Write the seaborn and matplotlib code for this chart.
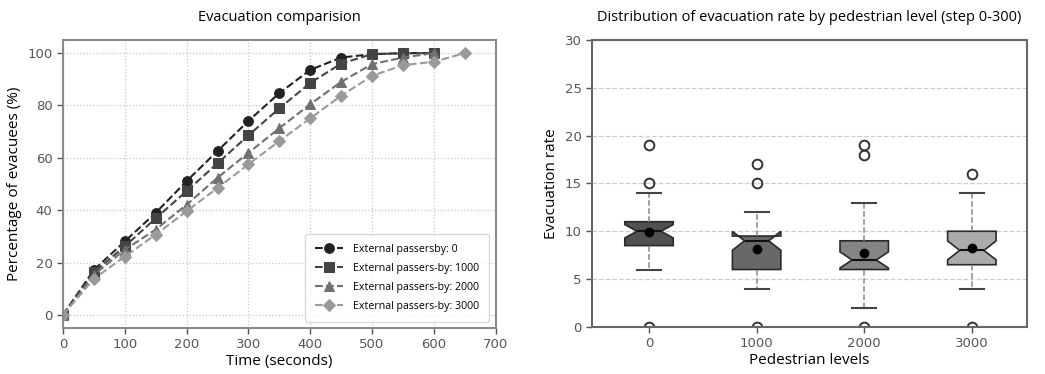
import pandas as pd
import seaborn as sns
import matplotlib.pyplot as plt

# Evacuation curves (percentage of evacuees over time)
time_a = [0, 50, 100, 150, 200, 250, 300, 350, 400, 450, 500, 550, 600]
time_b = [0, 50, 100, 150, 200, 250, 300, 350, 400, 450, 500, 550, 600, 650]
pct_0 = [0, 17.2, 28.1, 39.0, 51.1, 62.6, 74.1, 84.7, 93.6, 98.3, 99.6, 100, 100]
pct_1000 = [0, 16.3, 26.2, 36.9, 47.3, 57.9, 68.6, 78.9, 88.6, 96.0, 99.6, 99.9, 100]
pct_2000 = [0, 15.3, 24.9, 32.6, 42.1, 52.4, 61.9, 71.3, 80.5, 89.0, 95.8, 98.3, 100]
pct_3000 = [0, 13.8, 22.3, 30.7, 39.6, 48.5, 57.5, 66.4, 75.1, 83.7, 91.3, 95.4, 96.7, 100]
series_labels = ['External passersby: 0', 'External passers-by: 1000',
                 'External passers-by: 2000', 'External passers-by: 3000']

# Evacuation rate samples per pedestrian level (steps 0-300)
levels = ['0', '1000', '2000', '3000']
rate_0 = [0, 6, 6, 6, 8, 8, 8, 8, 9, 9, 9, 10, 10, 10, 10, 10, 10, 10,
          11, 11, 11, 11, 11, 11, 11, 11, 11, 13, 14, 15, 19]
rate_1000 = [0, 4, 5, 5, 5, 6, 6, 6, 6, 7, 7, 7, 7, 8, 9, 9, 9, 9,
             9, 9, 9, 9, 9, 10, 10, 10, 10, 10, 12, 15, 17]
rate_2000 = [0, 2, 3, 5, 5, 6, 6, 6, 6, 6, 6, 7, 7, 7, 7, 7, 7, 8,
             8, 8, 8, 9, 9, 9, 9, 9, 9, 10, 13, 18, 19]
rate_3000 = [0, 4, 5, 5, 6, 6, 6, 6, 7, 7, 7, 7, 8, 8, 8, 8, 8, 9,
             9, 9, 10, 10, 10, 10, 10, 10, 10, 11, 13, 14, 16]

tick_color = '#555555'

fig = plt.figure(figsize=(10.45, 3.74), dpi=100)
ax1 = fig.add_axes([0.0603, 0.123, 0.414, 0.770])
ax2 = fig.add_axes([0.5665, 0.126, 0.416, 0.767])

# ---- left: line chart
curves = [(time_a, pct_0, 'o', '#222222'),
          (time_a, pct_1000, 's', '#444444'),
          (time_a, pct_2000, '^', '#707070'),
          (time_b, pct_3000, 'D', '#9a9a9a')]
for (t, p, m, c), lab in zip(curves, series_labels):
    sns.lineplot(x=t, y=p, ax=ax1, color=c, marker=m, markersize=7 if m != 'D' else 6.5,
                 markeredgecolor=c, linestyle='--', linewidth=1.5, dashes=(4, 2),
                 label=lab)

ax1.set_xlim(0, 700)
ax1.set_ylim(-5, 105)
ax1.set_xticks(range(0, 701, 100))
ax1.set_yticks(range(0, 101, 20))
ax1.grid(True, linestyle=':', color='#c8c8c8', linewidth=0.9)
ax1.set_axisbelow(True)
ax1.set_title('Evacuation comparision', family='Open Sans', fontsize=10.5, pad=14)
ax1.set_xlabel('Time (seconds)', family='Open Sans', fontsize=11, labelpad=2)
ax1.set_ylabel('Percentage of evacuees (%)', family='Open Sans', fontsize=11)
leg = ax1.legend(loc='lower right', prop={'family': 'Open Sans', 'size': 7.7},
                 frameon=True, handlelength=2.6, handletextpad=1.0, borderpad=0.9,
                 labelspacing=0.75, borderaxespad=0.6)
leg.get_frame().set_edgecolor('#d0d0d0')

# ---- right: notched box plot
box_df = pd.DataFrame({
    'level': [lv for lv, r in zip(levels, [rate_0, rate_1000, rate_2000, rate_3000]) for _ in r],
    'rate': rate_0 + rate_1000 + rate_2000 + rate_3000,
})
sns.boxplot(data=box_df, x='level', y='rate', hue='level', order=levels, hue_order=levels,
            palette=['#505050', '#686868', '#858585', '#ababab'], legend=False,
            width=0.45, notch=True, showmeans=True, linecolor='#2a2a2a', linewidth=1.2,
            meanprops=dict(marker='o', markerfacecolor='black', markeredgecolor='black',
                           markersize=6),
            whiskerprops=dict(linestyle='--', color='#888888', linewidth=1.1),
            capprops=dict(color='#444444', linewidth=1.5),
            medianprops=dict(color='#111111', linewidth=1.5),
            flierprops=dict(marker='o', markerfacecolor='none', markeredgecolor='#333333',
                            markersize=7, markeredgewidth=1.4),
            ax=ax2)
ax2.set_ylim(0, 30)
ax2.set_xlim(-0.53, 3.51)
ax2.yaxis.grid(True, linestyle='--', color='#cccccc', linewidth=0.9)
ax2.xaxis.grid(False)
ax2.set_axisbelow(True)
ax2.set_title('Distribution of evacuation rate by pedestrian level (step 0-300)',
              family='Open Sans', fontsize=10.5, pad=14)
ax2.set_xlabel('Pedestrian levels', family='Open Sans', fontsize=11, labelpad=2)
ax2.set_ylabel('Evacuation rate', family='Open Sans', fontsize=11)

for ax, sc in [(ax1, '#8a8a8a'), (ax2, '#666666')]:
    for s in ax.spines.values():
        s.set_color(sc)
        s.set_linewidth(1.5)
    ax.tick_params(colors=tick_color, labelsize=9.5, length=4, width=1)

plt.savefig('out.png', dpi=100)
